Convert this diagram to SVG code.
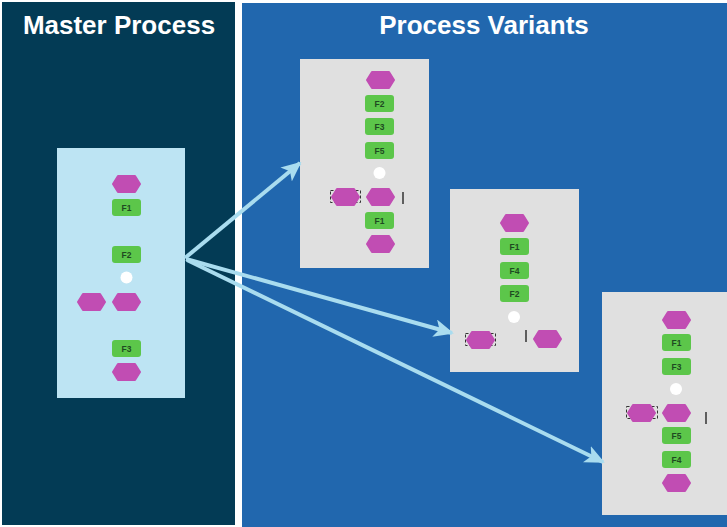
<svg xmlns="http://www.w3.org/2000/svg" width="727" height="527" viewBox="0 0 727 527">
<style>
.title{font-family:"Liberation Sans",Arial,sans-serif;font-weight:bold;font-size:26px;fill:#ffffff;text-anchor:middle}
.hex{fill:#c14db3;stroke:#c14db3;stroke-width:2;stroke-linejoin:round}
.fn{fill:#5cc64a}
.fl{font-family:"Liberation Sans",Arial,sans-serif;font-weight:bold;font-size:8.5px;fill:#1f4a22;text-anchor:middle}
.dot{fill:#ffffff}
.brk{fill:none;stroke:#333;stroke-width:1;stroke-dasharray:3 2}
.bar{stroke:#333;stroke-width:1.5}
.arr{stroke:#a9dcef;stroke-width:4;fill:none}
</style>
<defs>
<path id="hx" d="M6,1 H23 L28,9 L23,17 H6 L1,9 Z" class="hex"/>
<marker id="ah" markerUnits="userSpaceOnUse" markerWidth="20" markerHeight="18" viewBox="0 0 20 18" refX="18" refY="9" orient="auto">
<path d="M0,0 L20,9 L0,18 L5,9 Z" fill="#a9dcef"/>
</marker>
</defs>
<rect width="727" height="527" fill="#ffffff"/>
<g id="master-panel">
<rect x="2" y="2" width="233" height="523" fill="#033b55"/>
<text class="title" x="119" y="34">Master Process</text>
</g>
<g id="variants-panel">
<rect x="242" y="3" width="485" height="524" fill="#2167ae"/>
<text class="title" x="484" y="34">Process Variants</text>
</g>
<g id="master">
<rect x="57" y="148" width="128" height="250" fill="#bde4f3"/>
<use href="#hx" x="112" y="175"/>
<rect class="fn" x="112" y="199" width="29" height="17" rx="3"/><text class="fl" x="126.5" y="210.5">F1</text>
<rect class="fn" x="112" y="246" width="29" height="17" rx="3"/><text class="fl" x="126.5" y="257.5">F2</text>
<circle class="dot" cx="126.5" cy="277.5" r="6"/>
<use href="#hx" x="77" y="293"/>
<use href="#hx" x="112" y="293"/>
<rect class="fn" x="112" y="340" width="29" height="17" rx="3"/><text class="fl" x="126.5" y="351.5">F3</text>
<use href="#hx" x="112" y="363"/>
</g>
<g id="variant1">
<rect x="300" y="59" width="129" height="209" fill="#e0e0e0"/>
<use href="#hx" x="366" y="71"/>
<rect class="fn" x="365" y="95" width="29" height="17" rx="3"/><text class="fl" x="379.5" y="106.5">F2</text>
<rect class="fn" x="365" y="118" width="29" height="17" rx="3"/><text class="fl" x="379.5" y="129.5">F3</text>
<rect class="fn" x="365" y="142" width="29" height="17" rx="3"/><text class="fl" x="379.5" y="153.5">F5</text>
<circle class="dot" cx="379.5" cy="173" r="6"/>
<rect class="brk" x="330.5" y="190.5" width="30" height="12"/>
<use href="#hx" x="331" y="188"/>
<use href="#hx" x="366" y="188"/>
<line class="bar" x1="403" y1="192" x2="403" y2="204"/>
<rect class="fn" x="365" y="212" width="29" height="17" rx="3"/><text class="fl" x="379.5" y="223.5">F1</text>
<use href="#hx" x="366" y="235"/>
</g>
<g id="variant2">
<rect x="450" y="189" width="129" height="183" fill="#e0e0e0"/>
<use href="#hx" x="500" y="214"/>
<rect class="fn" x="500" y="238" width="29" height="17" rx="3"/><text class="fl" x="514.5" y="249.5">F1</text>
<rect class="fn" x="500" y="262" width="29" height="17" rx="3"/><text class="fl" x="514.5" y="273.5">F4</text>
<rect class="fn" x="500" y="285" width="29" height="17" rx="3"/><text class="fl" x="514.5" y="296.5">F2</text>
<circle class="dot" cx="514" cy="317" r="6"/>
<rect class="brk" x="465.5" y="333.5" width="30" height="12"/>
<use href="#hx" x="466" y="331"/>
<line class="bar" x1="526" y1="330" x2="526" y2="342"/>
<use href="#hx" x="533" y="330"/>
</g>
<g id="variant3">
<rect x="602" y="292" width="125" height="223" fill="#e0e0e0"/>
<use href="#hx" x="662" y="311"/>
<rect class="fn" x="662" y="334" width="29" height="17" rx="3"/><text class="fl" x="676.5" y="345.5">F1</text>
<rect class="fn" x="662" y="358" width="29" height="17" rx="3"/><text class="fl" x="676.5" y="369.5">F3</text>
<circle class="dot" cx="676" cy="389" r="6"/>
<rect class="brk" x="626.5" y="406.5" width="31" height="12"/>
<use href="#hx" x="627" y="404"/>
<use href="#hx" x="662" y="404"/>
<line class="bar" x1="706" y1="412" x2="706" y2="424"/>
<rect class="fn" x="662" y="427" width="29" height="17" rx="3"/><text class="fl" x="676.5" y="438.5">F5</text>
<rect class="fn" x="662" y="451" width="29" height="17" rx="3"/><text class="fl" x="676.5" y="462.5">F4</text>
<use href="#hx" x="662" y="474"/>
</g>
<g id="connectors">
<line class="arr" x1="185" y1="258" x2="300" y2="163" marker-end="url(#ah)"/>
<line class="arr" x1="186" y1="259" x2="452" y2="333" marker-end="url(#ah)"/>
<line class="arr" x1="187" y1="260" x2="603" y2="462" marker-end="url(#ah)"/>
</g>
</svg>
